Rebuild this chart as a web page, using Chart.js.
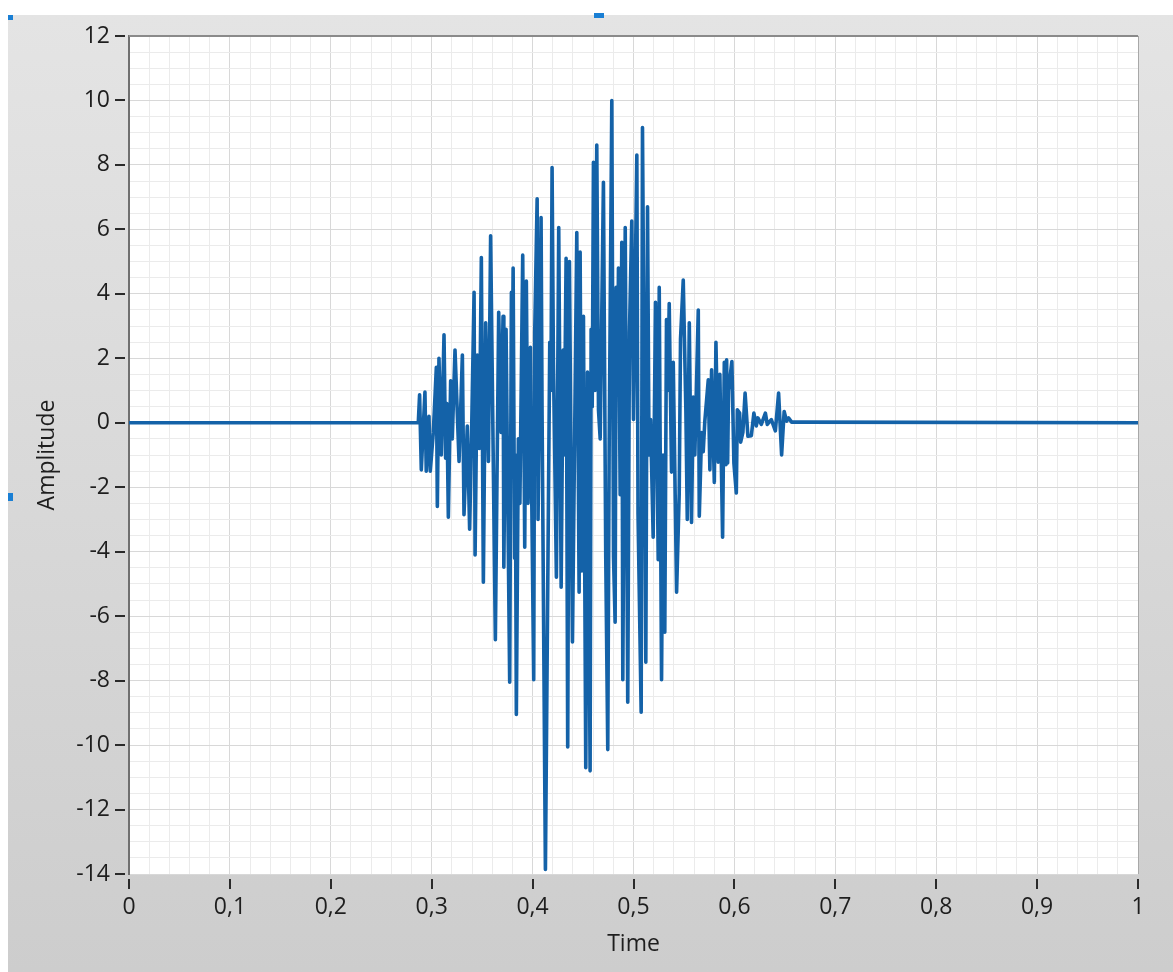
<!DOCTYPE html>
<html>
<head>
<meta charset="utf-8">
<title>Amplitude / Time</title>
<script src="https://cdn.jsdelivr.net/npm/chart.js@4.4.1/dist/chart.umd.min.js"></script>
<style>
  html, body { margin: 0; padding: 0; background: #fff; }
  #panel {
    position: absolute; left: 8px; top: 15px; right: 0; bottom: 0;
    background: linear-gradient(#e4e4e4, #cdcdcd);
  }
  #waveChart { position: absolute; left: 0; top: 0; }
  .handle { position: absolute; width: 5px; height: 5px; background: #1a7fd4; }
</style>
</head>
<body>
<div id="panel"></div>
<canvas id="waveChart" width="1173" height="972"></canvas>
<div class="handle" style="left:8px;top:15px"></div>
<div class="handle" style="left:594px;top:13px;width:10px"></div>
<div class="handle" style="left:8px;top:493px;height:8px"></div>
<script>
// tín hiệu (thời gian, biên độ)
const timeValues = [
    0, 0.2867, 0.2880, 0.2897, 0.2933, 0.2946, 0.2973, 0.2986, 0.3016, 0.3046,
    0.3056, 0.3072, 0.3095, 0.3122, 0.3138, 0.3150, 0.3165, 0.3188, 0.3204, 0.3231,
    0.3271, 0.3304, 0.3320, 0.3353, 0.3376, 0.3396, 0.3420, 0.3430, 0.3452, 0.3472,
    0.3492, 0.3512, 0.3535, 0.3562, 0.3584, 0.3631, 0.3664, 0.3688, 0.3707, 0.3715,
    0.3737, 0.3773, 0.3790, 0.3798, 0.3807, 0.3822, 0.3829, 0.3839, 0.3859, 0.3874,
    0.3902, 0.3922, 0.3938, 0.3955, 0.3978, 0.3988, 0.4011, 0.4021, 0.4045, 0.4054,
    0.4084, 0.4094, 0.4127, 0.4170, 0.4182, 0.4193, 0.4206, 0.4236, 0.4259, 0.4283,
    0.4303, 0.4313, 0.4332, 0.4348, 0.4365, 0.4395, 0.4438, 0.4461, 0.4471, 0.4487,
    0.4504, 0.4527, 0.4544, 0.4570, 0.4580, 0.4591, 0.4603, 0.4618, 0.4636, 0.4653,
    0.4670, 0.4702, 0.4725, 0.4745, 0.4759, 0.4785, 0.4802, 0.4818, 0.4828, 0.4841,
    0.4851, 0.4868, 0.4884, 0.4894, 0.4918, 0.4943, 0.4960, 0.4983, 0.5000, 0.5033,
    0.5045, 0.5076, 0.5089, 0.5109, 0.5122, 0.5139, 0.5154, 0.5169, 0.5195, 0.5218,
    0.5245, 0.5255, 0.5278, 0.5293, 0.5310, 0.5327, 0.5340, 0.5354, 0.5377, 0.5394,
    0.5427, 0.5453, 0.5466, 0.5493, 0.5519, 0.5533, 0.5553, 0.5575, 0.5592, 0.5608,
    0.5642, 0.5652, 0.5675, 0.5691, 0.5707, 0.5741, 0.5757, 0.5774, 0.5801, 0.5817,
    0.5840, 0.5856, 0.5883, 0.5900, 0.5916, 0.5923, 0.5933, 0.5942, 0.5975, 0.5995,
    0.6019, 0.6029, 0.6052, 0.6062, 0.6084, 0.6106, 0.6134, 0.6168, 0.6193, 0.6217,
    0.6233, 0.6267, 0.6307, 0.6326, 0.6366, 0.6406, 0.6438, 0.6468, 0.6493, 0.6518,
    0.6538, 0.6567, 0.6657, 1
];
const amplitudeValues = [
    0, 0, 0.87, -1.46, 0.95, -1.5, 0.2, -1.5, -0.3, 1.72,
    -2.6, 2.0, -1.0, 2.73, -1.1, 0.6, -2.93, 1.3, -0.5, 2.26,
    -1.2, 2.1, -2.85, -0.1, -3.3, -0.2, 4.05, -4.1, 2.1, -0.8,
    5.13, -4.95, 3.1, -1.2, 5.8, -6.73, 3.43, -0.3, 3.3, -4.48,
    2.9, -8.05, 4.05, 1.0, 4.8, -4.2, -1.0, -9.05, -0.5, -2.5,
    5.2, -3.86, 4.4, -2.5, 2.34, -1.3, -7.97, 2.8, 6.95, -3.0,
    6.37, 0.25, -13.86, 2.5, 1.0, 7.92, 2.0, -4.79, 6.06, -5.1,
    2.26, -1.0, 5.1, -10.06, 5.0, -6.8, 5.9, -5.26, 5.3, -4.6,
    3.3, -10.7, 1.57, -10.8, 2.9, 0.5, 8.08, 1.0, 8.62, 0.4,
    -0.5, 7.46, -4.17, -10.14, -0.68, 10.0, -4.17, -6.19, 4.2, 1.0,
    4.8, -2.23, 5.6, -7.97, 6.06, -8.67, 2.8, 6.26, 0.1, 8.31,
    -2.85, -8.98, 9.16, -0.2, -7.43, 6.7, -1.0, 0.1, -3.55, 3.74,
    -4.25, 4.2, -7.97, -1.0, -6.5, 3.2, 1.0, 3.7, -1.53, 1.88,
    -5.26, -2.2, 2.6, 4.43, 0.4, -3.0, 3.1, -3.09, 0.8, -1.0,
    3.5, -2.9, -0.3, -0.9, 0.05, 1.33, -1.46, 1.64, -1.85, 2.5,
    -1.22, 1.5, -3.55, 1.88, -1.3, 1.95, -1.25, 1.0, 1.9, -1.25,
    -2.18, 0.4, 0.3, -0.6, -0.3, 0.92, -0.42, -0.4, 0.3, -0.1,
    0.15, -0.05, 0.3, -0.05, 0.1, -0.25, 0.92, -1.0, 0.35, 0.05,
    0.15, 0.02, 0.02, 0
];

// nhãn trục
const xMajorTicks = [0, 0.1, 0.2, 0.3, 0.4, 0.5, 0.6, 0.7, 0.8, 0.9, 1];
const yMajorTicks = [-14, -12, -10, -8, -6, -4, -2, 0, 2, 4, 6, 8, 10, 12];

const isMajor = (list, v) => list.some(t => Math.abs(t - v) < 1e-6);
const fmtX = v => String(Math.round(v * 10) / 10).replace('.', ',');

const points = timeValues.map((t, i) => ({ x: t, y: amplitudeValues[i] }));

const labelFont = { family: "'Segoe UI', 'Open Sans', sans-serif", size: 23 };

// nền trắng cho vùng vẽ
const plotBackground = {
    id: 'plotBackground',
    beforeDraw(chart) {
        const { ctx, chartArea: a } = chart;
        ctx.save();
        ctx.fillStyle = '#ffffff';
        ctx.fillRect(a.left, a.top, a.right - a.left, a.bottom - a.top);
        ctx.restore();
    }
};

// khung trên/phải và vạch chia trên trục
const frameAndTicks = {
    id: 'frameAndTicks',
    afterDraw(chart) {
        const { ctx, chartArea: a, scales } = chart;
        ctx.save();
        ctx.strokeStyle = '#8a8a8a';
        ctx.lineWidth = 2;
        ctx.beginPath();
        ctx.moveTo(a.left, a.top);
        ctx.lineTo(a.right, a.top);
        ctx.stroke();
        ctx.strokeStyle = '#a8a8a8';
        ctx.lineWidth = 1;
        ctx.beginPath();
        ctx.moveTo(a.right + 0.5, a.top);
        ctx.lineTo(a.right + 0.5, a.bottom);
        ctx.stroke();

        ctx.strokeStyle = '#2a2a2a';
        ctx.lineWidth = 2;
        yMajorTicks.forEach(v => {
            const y = Math.round(scales.y.getPixelForValue(v));
            ctx.beginPath();
            ctx.moveTo(a.left - 14, y);
            ctx.lineTo(a.left - 4, y);
            ctx.stroke();
        });
        xMajorTicks.forEach(v => {
            const x = Math.round(scales.x.getPixelForValue(v));
            ctx.beginPath();
            ctx.moveTo(x, a.bottom + 5);
            ctx.lineTo(x, a.bottom + 15);
            ctx.stroke();
        });
        ctx.restore();
    }
};

const ctx = document.getElementById('waveChart').getContext('2d');
const waveChart = new Chart(ctx, {
    type: 'line',
    data: {
        datasets: [{
            label: 'Amplitude',
            data: points,
            borderColor: '#1462a8',
            borderWidth: 3.6,
            borderJoinStyle: 'round',
            borderCapStyle: 'round',
            pointRadius: 0,
            tension: 0,
            fill: false
        }]
    },
    options: {
        responsive: false,
        devicePixelRatio: 1,
        animation: false,
        layout: { padding: { top: 36, right: 35, left: 0, bottom: 0 } },
        plugins: {
            legend: { display: false },
            tooltip: { enabled: false }
        },
        scales: {
            x: {
                type: 'linear',
                min: 0,
                max: 1,
                afterFit(scale) { scale.height = 98; },
                border: { display: false },
                grid: {
                    drawTicks: false,
                    color: c => isMajor(xMajorTicks, c.tick.value) ? '#d8d8d8' : '#ebebeb',
                    lineWidth: 1
                },
                ticks: {
                    stepSize: 0.02,
                    autoSkip: false,
                    maxRotation: 0,
                    padding: 20,
                    color: '#1e1e1e',
                    font: labelFont,
                    callback: v => isMajor(xMajorTicks, v) ? fmtX(v) : ''
                },
                title: {
                    display: true,
                    text: 'Time',
                    color: '#1e1e1e',
                    font: labelFont,
                    padding: { top: 0, bottom: 14 }
                }
            },
            y: {
                min: -14,
                max: 12,
                afterFit(scale) { scale.width = 129; },
                border: { display: true, color: '#707070', width: 2 },
                grid: {
                    drawTicks: false,
                    color: c => isMajor(yMajorTicks, c.tick.value) ? '#d8d8d8' : '#ebebeb',
                    lineWidth: 1
                },
                ticks: {
                    stepSize: 0.5,
                    autoSkip: false,
                    padding: 19,
                    color: '#1e1e1e',
                    font: labelFont,
                    callback: v => isMajor(yMajorTicks, v) ? String(v) : ''
                },
                title: {
                    display: true,
                    text: 'Amplitude',
                    color: '#1e1e1e',
                    font: labelFont,
                    padding: { top: 34, bottom: 0 }
                }
            }
        }
    },
    plugins: [plotBackground, frameAndTicks]
});
</script>
</body>
</html>
